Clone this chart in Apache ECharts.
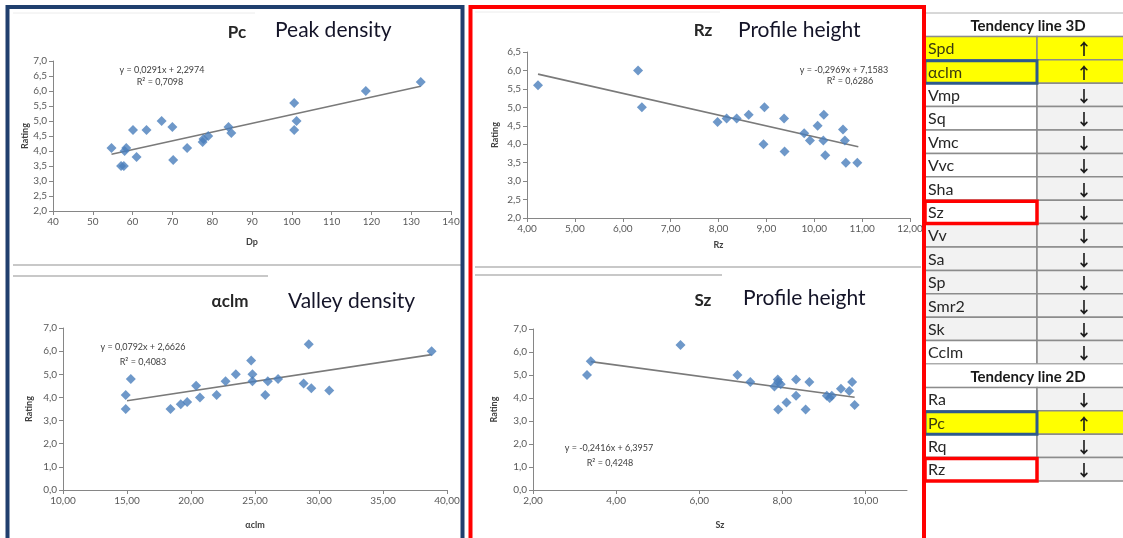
<!DOCTYPE html>
<html>
<head>
<meta charset="utf-8">
<script src="https://cdn.jsdelivr.net/npm/echarts/dist/echarts.min.js"></script>
<style>
  html, body { margin: 0; padding: 0; background: #fff; }
  #chart { width: 1123px; height: 538px; }
</style>
</head>
<body>
<div id="chart"></div>
<script>
// Pc - Peak density (Dp vs Rating)
const pcX = [54.7, 57.1, 57.8, 58.0, 58.4, 60.1, 61.0, 63.5, 67.3, 70.0, 70.2, 73.7, 77.6, 77.8, 79.0, 84.1, 84.8, 100.6, 100.6, 101.2, 118.6, 132.4]
const pcY = [4.1, 3.5, 3.5, 4.0, 4.1, 4.7, 3.8, 4.7, 5.0, 4.8, 3.7, 4.1, 4.3, 4.4, 4.5, 4.8, 4.6, 5.6, 4.7, 5.0, 6.0, 6.3]
const pcTrendX = [54.7, 132.4]
const pcTrendY = [3.89, 6.16]

// aclm - Valley density
const aclmX = [14.9, 14.9, 15.3, 18.4, 19.2, 19.7, 20.4, 20.7, 22.0, 22.7, 23.5, 24.7, 24.8, 24.8, 25.8, 26.0, 26.8, 28.8, 29.2, 29.4, 30.8, 38.8]
const aclmY = [4.1, 3.5, 4.8, 3.5, 3.7, 3.8, 4.5, 4.0, 4.1, 4.7, 5.0, 5.6, 5.0, 4.7, 4.1, 4.7, 4.8, 4.6, 6.3, 4.4, 4.3, 6.0]
const aclmTrendX = [15.0, 38.8]
const aclmTrendY = [3.86, 5.85]

// Rz - Profile height (2D)
const rzX = [4.23, 6.32, 6.40, 7.98, 8.17, 8.38, 8.63, 8.94, 8.96, 9.37, 9.38, 9.79, 9.91, 10.07, 10.19, 10.20, 10.23, 10.60, 10.64, 10.66, 10.90]
const rzY = [5.6, 6.0, 5.0, 4.6, 4.7, 4.7, 4.8, 4.0, 5.0, 4.7, 3.8, 4.3, 4.1, 4.5, 4.1, 4.8, 3.7, 4.4, 4.1, 3.5, 3.5]
const rzTrendX = [4.23, 10.92]
const rzTrendY = [5.90, 3.93]

// Sz - Profile height (3D)
const szX = [3.30, 3.39, 5.55, 6.92, 7.23, 7.81, 7.89, 7.90, 7.96, 7.90, 8.10, 8.33, 8.33, 8.56, 8.65, 9.07, 9.14, 9.19, 9.41, 9.61, 9.68, 9.74]
const szY = [5.0, 5.6, 6.3, 5.0, 4.7, 4.5, 4.8, 4.7, 4.6, 3.5, 3.8, 4.8, 4.1, 3.5, 4.7, 4.1, 4.0, 4.1, 4.4, 4.3, 4.7, 3.7]
const szTrendX = [3.39, 9.74]
const szTrendY = [5.58, 4.03]

// Tendency table
const tableRows = ['Tendency line 3D', 'Spd', 'αclm', 'Vmp', 'Sq', 'Vmc', 'Vvc', 'Sha', 'Sz', 'Vv', 'Sa', 'Sp', 'Smr2', 'Sk', 'Cclm',
  'Tendency line 2D', 'Ra', 'Pc', 'Rq', 'Rz']
const tableArrows = ['', '↑', '↑', '↓', '↓', '↓', '↓', '↓', '↓', '↓', '↓', '↓', '↓', '↓', '↓', '', '↓', '↑', '↓', '↓']
const tableYellow = ['Spd', 'αclm', 'Pc']
const tableShaded = ['Vv', 'Sa', 'Sp', 'Smr2', 'Sk']
const tableBlueBox = ['αclm', 'Pc']
const tableRedBox = ['Sz', 'Rz']

const FONT = 'Lato, "Open Sans", sans-serif'
const dotColor = '#4a7ebb'
const axisColor = '#868686'

const fmt = (d) => (v) => v.toFixed(d).replace('.', ',')
const pairs = (xs, ys) => xs.map((x, i) => [x, ys[i]])

// one panel: grid + axes
const panels = [
  { grid: { left: 53, top: 61, width: 398, height: 150 }, x: [40, 140, 10, 0], y: [2, 7, 0.5, 1], xName: 'Dp', xGap: 27, yGap: 22 },
  { grid: { left: 63, top: 328, width: 384, height: 162 }, x: [10, 40, 5, 2], y: [0, 7, 1, 1], xName: 'αclm', xGap: 31, yGap: 29 },
  { grid: { left: 527, top: 52, width: 383, height: 166 }, x: [4, 12, 1, 2], y: [2, 6.5, 0.5, 1], xName: 'Rz', xGap: 23, yGap: 27 },
  { grid: { left: 533, top: 329, width: 374, height: 161 }, x: [2, 11, 2, 2], y: [0, 7, 1, 1], xName: 'Sz', xGap: 31, yGap: 34 }
]

const labelStyle = { color: '#595959', fontSize: 10, fontFamily: FONT }
const nameStyle = { color: '#404040', fontSize: 9, fontWeight: 'bold', fontFamily: FONT }

const xAxes = panels.map((p, i) => ({
  type: 'value', gridIndex: i,
  min: p.x[0], max: p.x[1], interval: p.x[2],
  name: p.xName, nameLocation: 'middle', nameGap: p.xGap, nameTextStyle: nameStyle,
  axisLine: { show: true, onZero: false, lineStyle: { color: axisColor, width: 1 } },
  axisTick: { show: true, length: 4, lineStyle: { color: axisColor } },
  axisLabel: { ...labelStyle, margin: 6, formatter: fmt(p.x[3]), showMaxLabel: p.x[1] % p.x[2] === 0 },
  splitLine: { show: false }
}))

const yAxes = panels.map((p, i) => ({
  type: 'value', gridIndex: i,
  min: p.y[0], max: p.y[1], interval: p.y[2],
  name: 'Rating', nameLocation: 'middle', nameGap: p.yGap, nameTextStyle: nameStyle,
  axisLine: { show: true, onZero: false, lineStyle: { color: axisColor, width: 1 } },
  axisTick: { show: true, length: 4, lineStyle: { color: axisColor } },
  axisLabel: { ...labelStyle, margin: 6, formatter: fmt(p.y[3]) },
  splitLine: { show: false }
}))

const scatterData = [pairs(pcX, pcY), pairs(aclmX, aclmY), pairs(rzX, rzY), pairs(szX, szY)]
const trendData = [pairs(pcTrendX, pcTrendY), pairs(aclmTrendX, aclmTrendY), pairs(rzTrendX, rzTrendY), pairs(szTrendX, szTrendY)]

const series = []
scatterData.forEach((d, i) => {
  series.push({
    type: 'line', xAxisIndex: i, yAxisIndex: i, data: trendData[i],
    symbol: 'none', silent: true, z: 3,
    lineStyle: { color: '#7a7a7a', width: 1.6 }
  })
  series.push({
    type: 'scatter', xAxisIndex: i, yAxisIndex: i, data: d,
    symbol: 'diamond', symbolSize: [10, 10], z: 4,
    itemStyle: { color: dotColor }
  })
})

// texts on the panels
const txt = (x, y, text, size, opts = {}) => ({
  type: 'text', x, y, z: 50,
  style: {
    text, fontSize: size, fontFamily: opts.font || FONT, fill: opts.fill || '#1a1a1a',
    fontWeight: opts.bold ? 'bold' : 'normal',
    align: opts.align || 'center', verticalAlign: 'middle'
  }
})
const hline = (x1, x2, y, color, w) => ({
  type: 'line', z: 1, shape: { x1, y1: y, x2, y2: y }, style: { stroke: color, lineWidth: w }
})

const graphics = [
  // chart titles
  txt(237, 33, 'Pc', 17, { bold: true, fill: '#262626' }),
  txt(275, 30, 'Peak density', 21, { align: 'left', fill: '#141428' }),
  txt(230, 302, 'αclm', 17, { bold: true, fill: '#262626' }),
  txt(288, 301, 'Valley density', 21, { align: 'left', fill: '#141428' }),
  txt(703, 31, 'Rz', 17, { bold: true, fill: '#262626' }),
  txt(738, 30, 'Profile height', 21, { align: 'left', fill: '#141428' }),
  txt(703, 301, 'Sz', 17, { bold: true, fill: '#262626' }),
  txt(743, 298, 'Profile height', 21, { align: 'left', fill: '#141428' }),
  // trend equations
  txt(162, 70, 'y = 0,0291x + 2,2974', 9, { fill: '#404040' }),
  txt(160, 82, 'R² = 0,7098', 9, { fill: '#404040' }),
  txt(143, 347, 'y = 0,0792x + 2,6626', 9, { fill: '#404040' }),
  txt(143, 362, 'R² = 0,4083', 9, { fill: '#404040' }),
  txt(844, 70, 'y = -0,2969x + 7,1583', 9, { fill: '#404040' }),
  txt(850, 81, 'R² = 0,6286', 9, { fill: '#404040' }),
  txt(609, 448, 'y = -0,2416x + 6,3957', 9, { fill: '#404040' }),
  txt(610, 463, 'R² = 0,4248', 9, { fill: '#404040' }),
  // chart-area borders left from the excel charts
  hline(13, 255, 13, '#ececec', 1),
  hline(13, 461, 265, '#c8c8c8', 2),
  hline(13, 268, 276, '#c8c8c8', 2),
  hline(475, 720, 12, '#ececec', 1),
  hline(475, 921, 267, '#c8c8c8', 2),
  hline(475, 722, 275, '#c8c8c8', 2)
]

// table
const rowTop = 13
const rowH = 23.4
const tLeft = 925, tMid = 1037, tRight = 1123
tableRows.forEach((label, i) => {
  const y0 = rowTop + i * rowH
  const header = tableArrows[i] === ''
  if (header) {
    graphics.push({ type: 'rect', z: 10, shape: { x: tLeft, y: y0, width: tRight - tLeft + 4, height: rowH },
      style: { fill: '#ffffff', stroke: '#b0b0b0', lineWidth: 1 } })
    graphics.push(txt(1028, y0 + rowH / 2 + 1, label, 15, { bold: true, fill: '#1a1a1a' }))
    return
  }
  const yellow = tableYellow.includes(label)
  const shaded = tableShaded.includes(label)
  graphics.push({ type: 'rect', z: 10, shape: { x: tLeft, y: y0, width: tMid - tLeft, height: rowH },
    style: { fill: yellow ? '#ffff00' : (shaded ? '#f2f2f2' : '#ffffff'), stroke: '#8c8c8c', lineWidth: 1.5 } })
  graphics.push({ type: 'rect', z: 10, shape: { x: tMid, y: y0, width: tRight - tMid + 4, height: rowH },
    style: { fill: yellow ? '#ffff00' : '#f2f2f2', stroke: '#8c8c8c', lineWidth: 1.5 } })
  graphics.push(txt(928, y0 + rowH / 2 + 1, label, 16, { align: 'left', fill: yellow ? '#3a3a10' : '#262626' }))
  graphics.push(txt(1084, y0 + rowH / 2 + 1, tableArrows[i], 16,
    { bold: true, fill: '#1a1a1a', font: '"Noto Sans CJK SC", "DejaVu Sans", sans-serif' }))
  if (tableBlueBox.includes(label)) {
    graphics.push({ type: 'rect', z: 60, shape: { x: tLeft, y: y0 + 1, width: tMid - tLeft, height: rowH - 1 },
      style: { fill: 'none', stroke: '#2e5a8c', lineWidth: 3 } })
  }
  if (tableRedBox.includes(label)) {
    graphics.push({ type: 'rect', z: 60, shape: { x: tLeft, y: y0 + 1, width: tMid - tLeft, height: rowH - 1 },
      style: { fill: 'none', stroke: '#ff0000', lineWidth: 3.5 } })
  }
})

// panel frames
graphics.push({ type: 'rect', z: 80, shape: { x: 7.5, y: 7, width: 455, height: 540 },
  style: { fill: 'none', stroke: '#203f6e', lineWidth: 4 } })
graphics.push({ type: 'rect', z: 80, shape: { x: 470.5, y: 7, width: 453.5, height: 540 },
  style: { fill: 'none', stroke: '#ff0000', lineWidth: 4 } })

const chart = echarts.init(document.getElementById('chart'))
chart.setOption({
  animation: false,
  backgroundColor: '#ffffff',
  grid: panels.map(p => ({ ...p.grid, containLabel: false })),
  xAxis: xAxes,
  yAxis: yAxes,
  series,
  graphic: graphics
})

window.addEventListener('resize', () => chart.resize())
</script>
</body>
</html>
